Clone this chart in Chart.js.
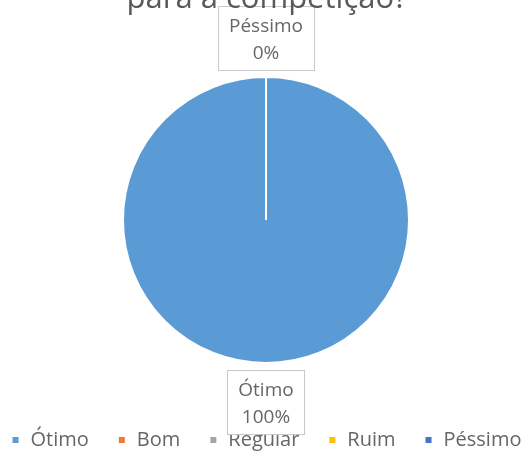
<!DOCTYPE html>
<html>
<head>
<meta charset="utf-8">
<script src="https://cdn.jsdelivr.net/npm/chart.js@4"></script>
<style>
  html, body { margin: 0; padding: 0; background: #fff; }
  #wrap { width: 528px; height: 454px; }
</style>
</head>
<body>
<div id="wrap"><canvas id="myChart"></canvas></div>
<script>
const categories = ['Ótimo', 'Bom', 'Regular', 'Ruim', 'Péssimo'];
const values = [100, 0, 0, 0, 0];
const colors = ['#5B9BD5', '#ED7D31', '#A5A5A5', '#FFC000', '#4472C4'];
const showLabel = [true, false, false, false, true];
const titleText = 'para a competição?';

const textColor = '#666666';
const fontFamily = '"Open Sans", "DejaVu Sans", sans-serif';

// nudge the pie a little to the right of the canvas middle
const shiftPlugin = {
    id: 'shiftArea',
    afterLayout(chart) {
        chart.chartArea.left += 4;
    }
};

// title sits partly above the canvas, like the cropped original
const titlePlugin = {
    id: 'cutTitle',
    afterDraw(chart) {
        const c = chart.ctx;
        c.save();
        c.font = '31px ' + fontFamily;
        c.fillStyle = '#595959';
        c.textAlign = 'center';
        c.textBaseline = 'alphabetic';
        c.fillText(titleText, 267, 8);
        c.restore();
    }
};

// callout boxes with category name and percentage
const calloutPlugin = {
    id: 'callouts',
    afterDatasetsDraw(chart) {
        const c = chart.ctx;
        const meta = chart.getDatasetMeta(0);
        const total = values.reduce((a, b) => a + b, 0);
        c.save();
        c.font = '19px ' + fontFamily;
        meta.data.forEach((arc, i) => {
            if (!showLabel[i]) return;
            const p = arc.getProps(['x', 'y', 'startAngle', 'endAngle', 'outerRadius'], true);
            const mid = (p.startAngle + p.endAngle) / 2;
            const pct = Math.round(values[i] / total * 100) + '%';
            const w = Math.max(c.measureText(categories[i]).width, c.measureText(pct).width) + 22;
            const h = 64;
            const cos = Math.cos(mid), sin = Math.sin(mid);
            const dist = p.outerRadius + 7 + Math.abs(cos) * w / 2 + Math.abs(sin) * h / 2;
            const cx = p.x + cos * dist;
            const cy = p.y + sin * dist;
            c.fillStyle = '#ffffff';
            c.fillRect(cx - w / 2, cy - h / 2, w, h);
            c.strokeStyle = '#c8c8c8';
            c.lineWidth = 1;
            c.strokeRect(Math.round(cx - w / 2) + 0.5, Math.round(cy - h / 2) + 0.5, Math.round(w), h);
            c.fillStyle = textColor;
            c.textAlign = 'center';
            c.textBaseline = 'middle';
            c.fillText(categories[i], cx, cy - 11);
            c.fillText(pct, cx, cy + 16);
        });
        c.restore();
    }
};

new Chart(document.getElementById('myChart'), {
    type: 'pie',
    data: {
        labels: categories,
        datasets: [{
            data: values,
            backgroundColor: colors,
            borderColor: '#ffffff',
            borderWidth: 2,
            radius: 143
        }]
    },
    options: {
        responsive: true,
        maintainAspectRatio: false,
        animation: false,
        layout: {
            padding: { top: 38, left: -20, right: -24, bottom: -6 }
        },
        plugins: {
            legend: {
                position: 'bottom',
                labels: {
                    usePointStyle: true,
                    pointStyle: 'rect',
                    boxWidth: 10,
                    boxHeight: 8,
                    padding: 28,
                    color: textColor,
                    font: { family: fontFamily, size: 20 }
                }
            },
            tooltip: { enabled: false }
        }
    },
    plugins: [shiftPlugin, calloutPlugin, titlePlugin]
});
</script>
</body>
</html>
